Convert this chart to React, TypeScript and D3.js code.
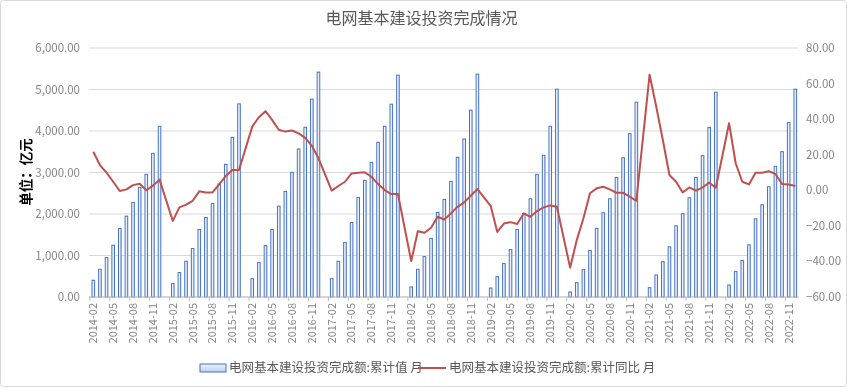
import React from "react";
import * as d3 from "d3";

const years = [2014, 2015, 2016, 2017, 2018, 2019, 2020, 2021, 2022];
const monthsWithJan = ["01", "02", "03", "04", "05", "06", "07", "08", "09", "10", "11", "12"];

// 电网基本建设投资完成额:累计值 (亿元), Feb..Dec per year
const inv2014 = [403, 668, 950, 1248, 1650, 1948, 2279, 2641, 2955, 3462, 4114];
const inv2015 = [322, 588, 861, 1167, 1626, 1916, 2254, 2721, 3196, 3848, 4654];
const inv2016 = [443, 829, 1240, 1626, 2190, 2544, 3003, 3567, 4090, 4767, 5419];
const inv2017 = [443, 861, 1312, 1795, 2399, 2810, 3245, 3728, 4114, 4646, 5346];
const inv2018 = [242, 668, 974, 1409, 2037, 2351, 2786, 3366, 3808, 4501, 5370];
const inv2019 = [217, 491, 805, 1143, 1626, 2013, 2367, 2955, 3414, 4114, 5008];
const inv2020 = [121, 346, 660, 1119, 1651, 2029, 2367, 2882, 3357, 3937, 4694];
const inv2021 = [225, 531, 853, 1208, 1715, 2005, 2391, 2882, 3406, 4082, 4936];
const inv2022 = [290, 612, 878, 1256, 1884, 2222, 2657, 3148, 3502, 4203, 5008];

// 电网基本建设投资完成额:累计同比 (%), Feb..Dec per year
const yoy2014 = [21.7, 14.2, 9.9, 4.8, -0.4, 0.5, 2.9, 3.7, 0.0, 2.6, 6.0];
const yoy2015 = [-17.2, -9.6, -8.1, -5.9, -0.6, -1.2, -1.2, 3.3, 8.0, 11.4, 11.4];
const yoy2016 = [35.8, 41.1, 44.5, 39.6, 34.0, 33.0, 33.6, 32.0, 29.5, 25.0, 18.0];
const yoy2017 = [-0.2, 2.4, 4.8, 9.5, 9.9, 10.1, 7.6, 3.5, 0.1, -2.1, -2.1];
const yoy2018 = [-39.8, -23.0, -23.9, -21.1, -14.9, -16.4, -13.0, -9.3, -6.8, -3.1, 0.7];
const yoy2019 = [-8.7, -23.4, -18.7, -17.9, -19.0, -13.0, -14.9, -11.7, -9.6, -8.5, -9.3];
const yoy2020 = [-43.5, -28.0, -15.9, -1.7, 1.1, 2.0, 0.5, -1.4, -1.4, -3.6, -5.9];
const yoy2021 = [65.0, 47.1, 28.3, 8.6, 4.8, -1.2, 1.6, -0.2, 1.6, 4.3, 1.4];
const yoy2022 = [37.7, 15.2, 4.8, 3.3, 9.9, 9.9, 10.7, 9.2, 3.5, 3.3, 2.4];

const invByYear = [inv2014, inv2015, inv2016, inv2017, inv2018, inv2019, inv2020, inv2021, inv2022];
const yoyByYear = [yoy2014, yoy2015, yoy2016, yoy2017, yoy2018, yoy2019, yoy2020, yoy2021, yoy2022];

const leftTicks = [0, 1000, 2000, 3000, 4000, 5000, 6000];
const rightTicks = [-60, -40, -20, 0, 20, 40, 60, 80];

const title = "电网基本建设投资完成情况";
const yTitle = "单位：亿元";
const barName = "电网基本建设投资完成额:累计值 月";
const lineName = "电网基本建设投资完成额:累计同比 月";

type Row = { cat: string; inv: number | null; yoy: number | null };

const rows: Row[] = [];
years.forEach((y, yi) => {
  monthsWithJan.forEach((m, mi) => {
    if (y === 2014 && mi === 0) return;
    rows.push({
      cat: `${y}-${m}`,
      inv: mi === 0 ? null : invByYear[yi][mi - 1],
      yoy: mi === 0 ? null : yoyByYear[yi][mi - 1],
    });
  });
});

const W = 847;
const H = 388;
const M = { left: 90, right: 798.6, top: 48, bottom: 297 };
const FONT = "'Noto Sans CJK SC', 'Noto Sans', sans-serif";

export default function App() {
  const x = d3
    .scaleBand<string>()
    .domain(rows.map((r) => r.cat))
    .range([M.left, M.right])
    .padding(0);
  const yL = d3.scaleLinear().domain([0, 6000]).range([M.bottom, M.top]);
  const yR = d3.scaleLinear().domain([-60, 80]).range([M.bottom, M.top]);
  const bw = x.bandwidth();
  const fmt = d3.format(",.2f");

  const lineData = rows.filter((r) => r.yoy !== null);
  const line = d3
    .line<Row>()
    .x((r) => (x(r.cat) as number) + bw / 2)
    .y((r) => yR(r.yoy as number));

  const labeled = rows.filter((_, i) => i % 3 === 0);

  return (
    <div style={{ position: "fixed", left: 0, top: 0 }}>
      <svg width={W} height={H} style={{ display: "block", fontFamily: FONT }}>
        <defs>
          <linearGradient id="barGrad" x1="0" x2="1" y1="0" y2="0">
            <stop offset="0%" stopColor="#ffffff" />
            <stop offset="100%" stopColor="#d6e2f5" />
          </linearGradient>
          <linearGradient id="legGrad" x1="0" x2="0" y1="0" y2="1">
            <stop offset="0%" stopColor="#eef3fb" />
            <stop offset="100%" stopColor="#bccfee" />
          </linearGradient>
        </defs>
        <rect x={0.5} y={0.5} width={W - 1} height={H - 2} fill="#ffffff" stroke="#d9d9d9" rx={3} />
        <text x={W / 2 - 2} y={24} textAnchor="middle" fontSize={16} fill="#595959">
          {title}
        </text>

        {leftTicks.map((t) => (
          <line key={"g" + t} x1={M.left - 1} x2={M.right} y1={yL(t)} y2={yL(t)} stroke="#d9d9d9" strokeWidth={1} />
        ))}
        {leftTicks.map((t) => (
          <text key={"l" + t} x={80} y={yL(t)} dy="0.35em" textAnchor="end" fontSize={11.5} fill="#858585">
            {fmt(t)}
          </text>
        ))}
        {rightTicks.map((t) => (
          <text key={"r" + t} x={806} y={yR(t)} dy="0.35em" textAnchor="start" fontSize={11.5} fill="#858585">
            {fmt(t)}
          </text>
        ))}
        <text
          transform={`translate(26, 172) rotate(-90)`}
          textAnchor="middle"
          dy="0.35em"
          fontSize={13.5}
          fontWeight="bold"
          fill="#000000"
        >
          {yTitle}
        </text>

        {rows
          .filter((r) => r.inv !== null)
          .map((r) => {
            const cx = (x(r.cat) as number) + bw / 2;
            const top = yL(r.inv as number);
            return (
              <rect
                key={"b" + r.cat}
                x={cx - 1.3}
                y={top}
                width={2.6}
                height={yL(0) - top}
                fill="url(#barGrad)"
                stroke="#4472c4"
                strokeWidth={1}
              />
            );
          })}

        <line x1={M.left - 1} x2={M.right} y1={M.bottom} y2={M.bottom} stroke="#bfbfbf" />
        {labeled.map((r) => (
          <line
            key={"t" + r.cat}
            x1={x(r.cat) as number}
            x2={x(r.cat) as number}
            y1={M.bottom}
            y2={M.bottom + 4}
            stroke="#bfbfbf"
          />
        ))}
        {labeled.map((r) => (
          <text
            key={"x" + r.cat}
            transform={`translate(${(x(r.cat) as number) + bw / 2}, ${M.bottom + 6}) rotate(-90)`}
            textAnchor="end"
            dy="0.35em"
            fontSize={11}
            fill="#858585"
          >
            {r.cat}
          </text>
        ))}

        <path d={line(lineData) || ""} fill="none" stroke="#c0504d" strokeWidth={2} strokeLinejoin="round" />

        <rect x={200} y={364} width={26} height={8} fill="url(#legGrad)" stroke="#4472c4" strokeWidth={1} />
        <text x={229} y={368} dy="0.35em" fontSize={12.5} fill="#595959">
          {barName}
        </text>
        <line x1={418} x2={446} y1={368} y2={368} stroke="#c0504d" strokeWidth={2} />
        <text x={449} y={368} dy="0.35em" fontSize={12.5} fill="#595959">
          {lineName}
        </text>
      </svg>
    </div>
  );
}
